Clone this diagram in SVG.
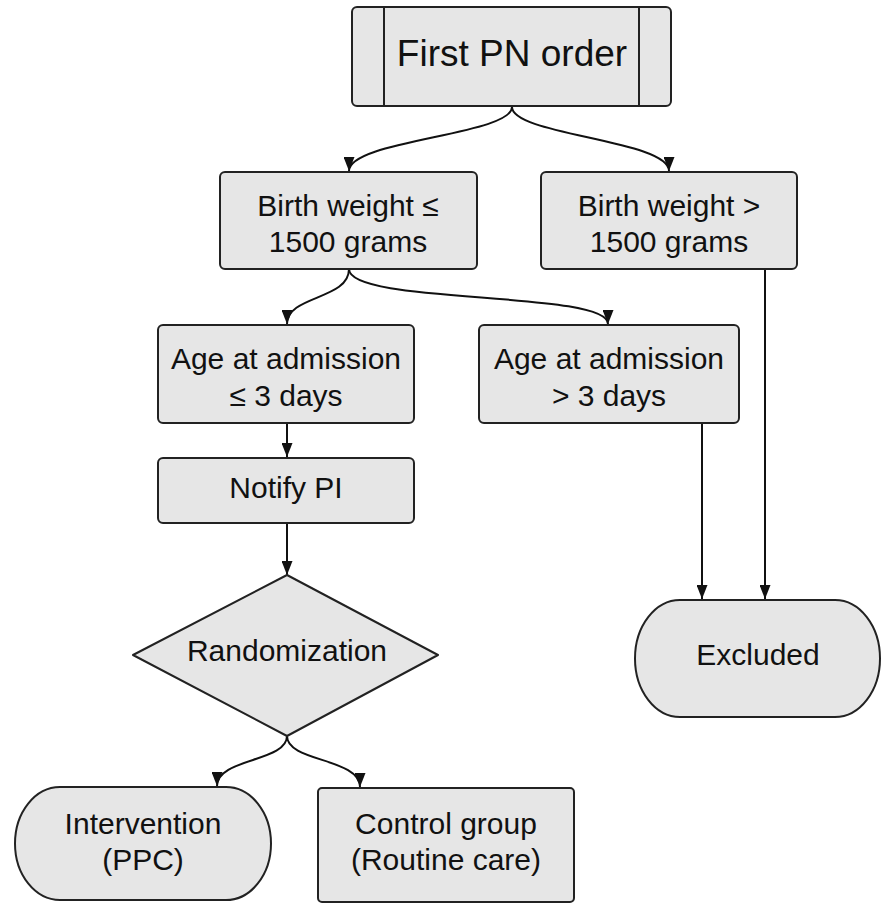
<svg xmlns="http://www.w3.org/2000/svg" width="882" height="903" viewBox="0 0 882 903">
<defs>
<style>
.n{fill:#e6e6e6;stroke:#222;stroke-width:2}
.t{font-family:"Liberation Sans",Arial,sans-serif;font-size:30px;fill:#111;text-anchor:middle}
.c{fill:none;stroke:#111;stroke-width:2}
</style>
<marker id="ah" markerWidth="14" markerHeight="11" refX="14" refY="5.5" orient="auto" markerUnits="userSpaceOnUse">
<path d="M0,0 L14,5.5 L0,11 Z" fill="#111"/>
</marker>
</defs>
<rect width="882" height="903" fill="#fff"/>
<g id="connectors">
<path class="c" d="M512,107 C512,135 349,140 349,171" marker-end="url(#ah)"/>
<path class="c" d="M512,107 C512,135 669,140 669,171" marker-end="url(#ah)"/>
<path class="c" d="M349,269 C349,300 287,295 287,324" marker-end="url(#ah)"/>
<path class="c" d="M349,269 C349,305 608,290 608,324" marker-end="url(#ah)"/>
<path class="c" d="M287,423 L287,457" marker-end="url(#ah)"/>
<path class="c" d="M287,523 L287,575" marker-end="url(#ah)"/>
<path class="c" d="M287,736 C287,762 217,758 217,786" marker-end="url(#ah)"/>
<path class="c" d="M287,736 C287,762 360,758 360,787" marker-end="url(#ah)"/>
<path class="c" d="M702,423 L702,599" marker-end="url(#ah)"/>
<path class="c" d="M765,269 L765,599" marker-end="url(#ah)"/>
</g>
<g id="first-pn-order">
<rect class="n" x="352" y="7" width="319" height="99" rx="5"/>
<line x1="384" y1="7" x2="384" y2="106" stroke="#222" stroke-width="2"/>
<line x1="639" y1="7" x2="639" y2="106" stroke="#222" stroke-width="2"/>
<text class="t" x="512" y="66" style="font-size:37px">First PN order</text>
</g>
<g id="bw-le">
<rect class="n" x="220" y="172" width="257" height="97" rx="5"/>
<text class="t" x="348" y="216">Birth weight ≤</text>
<text class="t" x="348" y="252">1500 grams</text>
</g>
<g id="bw-gt">
<rect class="n" x="541" y="172" width="256" height="97" rx="5"/>
<text class="t" x="669" y="216">Birth weight &gt;</text>
<text class="t" x="669" y="252">1500 grams</text>
</g>
<g id="age-le">
<rect class="n" x="158" y="325" width="256" height="98" rx="5"/>
<text class="t" x="286" y="369">Age at admission</text>
<text class="t" x="286" y="406">≤ 3 days</text>
</g>
<g id="age-gt">
<rect class="n" x="479" y="325" width="260" height="98" rx="5"/>
<text class="t" x="609" y="369">Age at admission</text>
<text class="t" x="609" y="406">&gt; 3 days</text>
</g>
<g id="notify-pi">
<rect class="n" x="158" y="458" width="256" height="65" rx="5"/>
<text class="t" x="286" y="498">Notify PI</text>
</g>
<g id="randomization">
<path class="n" d="M287,575 L438,655 L287,736 L133,655 Z" stroke-linejoin="round"/>
<text class="t" x="287" y="661">Randomization</text>
</g>
<g id="excluded">
<path class="n" d="M680,600 L835,600 A45,58.5 0 0 1 835,717 L680,717 A45,58.5 0 0 1 680,600 Z"/>
<text class="t" x="758" y="665">Excluded</text>
</g>
<g id="intervention">
<path class="n" d="M60,787 L226,787 A45,56.5 0 0 1 226,900 L60,900 A45,56.5 0 0 1 60,787 Z"/>
<text class="t" x="143" y="834">Intervention</text>
<text class="t" x="143" y="870">(PPC)</text>
</g>
<g id="control-group">
<rect class="n" x="318" y="788" width="256" height="114" rx="4"/>
<text class="t" x="446" y="834">Control group</text>
<text class="t" x="446" y="870">(Routine care)</text>
</g>
</svg>
